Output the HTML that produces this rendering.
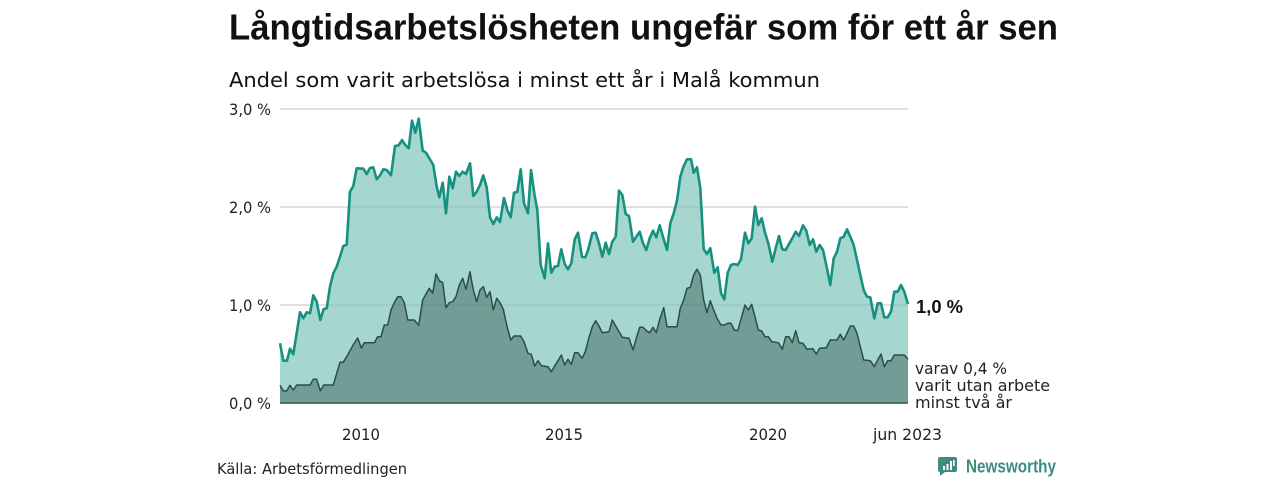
<!DOCTYPE html>
<html>
<head>
<meta charset="utf-8">
<style>
html,body{margin:0;padding:0;background:#fff;}
svg{display:block;}
text{font-family:"DejaVu Sans","Liberation Sans",sans-serif;}
text.b{font-family:"Liberation Sans","DejaVu Sans",sans-serif;font-weight:bold;}
</style>
</head>
<body>
<svg width="1280" height="480" viewBox="0 0 1280 480" xmlns="http://www.w3.org/2000/svg">
<rect width="1280" height="480" fill="#fff"/>
<text class="b" x="229" y="39.5" font-size="36" fill="#111" textLength="829" lengthAdjust="spacingAndGlyphs">Långtidsarbetslösheten ungefär som för ett år sen</text>
<text x="229" y="87" font-size="20.5" fill="#111" textLength="591" lengthAdjust="spacingAndGlyphs">Andel som varit arbetslösa i minst ett år i Malå kommun</text>

<g stroke="#dedede" stroke-width="1.2">
<line x1="280" y1="109" x2="908" y2="109"/>
<line x1="280" y1="207" x2="908" y2="207"/>
<line x1="280" y1="305" x2="908" y2="305"/>
</g>

<polygon fill="#a6d6d0" points="280,403 280,343.3 283.3,360.7 287,360.7 290,348.7 293.3,354.3 300,312.3 303.3,318.3 306.7,312.3 310,313.3 313.3,295.3 316.7,301.7 320.3,320 323.7,309 326.7,308.3 330,286.7 333.3,273.3 336.7,266.7 340,256.7 343.3,246 346.7,244.7 350,191.7 353.3,186 356.7,168.3 363.3,168.7 366.7,174 370,168 373.3,167.3 376.7,179.3 380,175.3 383.3,169.3 386.7,170 391,175.3 395,146 398.7,145.3 402,140 405.3,145 408.7,148.3 412,120.7 415.3,132.7 418.7,118.7 422.7,150.7 426,152.7 429.3,158.3 433.3,165 436.7,186.7 439.3,197.3 442.7,182.7 446,213.3 449.3,176.7 452.7,188.3 456,171.7 459.3,176 462.7,171.7 466,174 470,163.3 473.3,196 476.7,191.7 480,185 483.3,175.3 486.7,187.3 490,217.3 493.3,224 496.7,217.3 500,222 504,198 507.3,210 510.7,217.3 514,192.7 517.3,192 520.7,169.3 524,203.3 528,213.3 531,170 534.3,193.3 537.3,210 540.7,265 544.7,278.3 548,243.3 551.3,272.7 554.7,266.7 558,266 561.3,249.3 564.7,264 568,269.3 571.3,263.3 574.7,239.3 578,232.7 582,256.7 585.3,257.3 588.3,249.3 592.3,233.3 595.7,232.7 599,243.3 602.3,256.7 605.7,242.7 609,254 612.3,241.7 615.7,236.7 619,190.7 622.3,195 625.7,214 629,216 633,241.7 636.3,236.7 639.7,231.7 643,243.3 646.3,250 649.7,238.3 653,230.7 656.3,237.3 659.7,225.3 663,236.7 667,250 670.3,223.3 673.7,213.3 677,200.7 680.3,176.7 683.7,166 687,159.3 691,159.3 693.7,172.7 697,167.3 700.3,188.3 703.7,249.3 707,254 710.3,248.3 714.3,272.7 717.7,267.3 721,293.3 724.3,299.3 727.7,272.7 731,265 734.3,264 737.7,265 741,259.3 745,232.7 748.3,243.3 751.7,238.3 755,206.7 758.3,225 761.7,218.3 765,232.7 768.3,243.3 772.3,261.7 775.7,248.3 779,236 782.3,249.3 785.7,250 789,244 792.3,238.3 795.7,231.7 799,236 803,225.3 806.3,230.7 809.7,245 813,239.3 816.3,251.7 819.7,245 823,250 826.3,265 830.3,285 833.7,258.3 837,251.7 840.3,238.3 843.7,236.7 847,229.3 850.3,236.7 853.7,245 857,260 860.3,275 863.7,290 867,296.7 870.3,297.3 874.3,318.3 877.7,303.3 881,303.3 884.3,317.3 887.7,317.3 891,311.7 894.3,291.7 897.7,291.7 901,285 904.3,291.7 908,304 908,403"/>

<polygon fill="#719d96" points="280,403 280,385.3 283.3,391 286.7,391 290,385.3 293.3,390 296.7,385 310,385 313.3,379.3 316.7,379.3 320.3,390.7 323.7,385 333.3,385 336.7,373.3 340,362.3 343.3,362.3 346.7,356.7 350,350.7 353.3,344.7 357.7,338 361.3,348 364.3,342.7 374.3,342.7 377.7,336.7 381,336.7 384.3,325 387.7,325 391,310 394.3,302.7 397.7,296.7 401,296.7 404.3,302.7 407.7,320 414.3,320 418.7,325.3 422.7,300 426,294 429.3,288.3 432.7,293.3 436,274 439.3,280.7 442.7,282.7 446,307.7 449.3,302.7 452.7,301.7 456,296.7 459.3,285 462.7,278.3 466,289.3 470,271.7 473.3,290 476.7,301.7 480,290 483.3,286.7 486.7,297.3 490,291.7 493.3,310 496.7,298.3 500,302.7 503.3,309.3 506.7,325 510.7,340 514,336 520.7,336 524,341.7 528,353.3 531.3,354.3 534.7,366 538,360.7 541.3,365.7 548,366.7 551.3,371.7 554.7,366 558,360.7 561.3,355 564.7,365 568,359.3 571.3,364.3 574.7,352.7 578,352.7 582,358.3 585.3,351.7 588.3,340 592.3,326.7 595.7,320.7 599,326 602.3,332.7 609,331.7 612.3,320 615.7,326 619,331.7 622.3,337.3 629,338.3 633,350 636.3,338.3 639.7,327.3 643,327.3 646.3,330.7 649.7,332.7 653,327.3 656.3,332.7 659.7,319.3 663.7,307.7 667,326.7 677,326.7 680.3,308.3 683.7,300 687,288.3 690.3,287.3 693.7,275 697,269.3 700.3,275 703.7,300 707,312.7 710.3,300.7 713.7,310 717,318.3 721,325 724.3,325 727.7,323.3 731,323.3 734.3,330 737.7,330.7 741,319.3 745,305 748.3,310 751.7,304.3 755,316.7 758.3,330 761.7,331 765,336.7 768.3,336.7 771.7,341.7 778.3,342.7 782.3,349.3 785.7,336.7 789,336.7 792.3,342.7 795.7,330.7 799,342.7 803,343.3 807,349.3 813,348.7 816.3,354.3 819.7,348.3 826.3,347.7 830.3,340 837,340 840.3,334.3 843.7,340 847,333.3 850.3,326 853.7,326 857,333.3 860.3,346.7 863.7,360 870.3,360.7 874.3,366.7 877.7,360 881,354 884.3,366.7 887.7,360.7 891,360.7 894.3,355 904.3,355 908,359.3 908,403"/>

<g stroke="rgba(0,0,0,0.07)" stroke-width="1.2">
<line x1="280" y1="109" x2="908" y2="109"/>
<line x1="280" y1="207" x2="908" y2="207"/>
<line x1="280" y1="305" x2="908" y2="305"/>
</g>

<polyline fill="none" stroke="#17917f" stroke-width="2.6" stroke-linejoin="round" points="280,343.3 283.3,360.7 287,360.7 290,348.7 293.3,354.3 300,312.3 303.3,318.3 306.7,312.3 310,313.3 313.3,295.3 316.7,301.7 320.3,320 323.7,309 326.7,308.3 330,286.7 333.3,273.3 336.7,266.7 340,256.7 343.3,246 346.7,244.7 350,191.7 353.3,186 356.7,168.3 363.3,168.7 366.7,174 370,168 373.3,167.3 376.7,179.3 380,175.3 383.3,169.3 386.7,170 391,175.3 395,146 398.7,145.3 402,140 405.3,145 408.7,148.3 412,120.7 415.3,132.7 418.7,118.7 422.7,150.7 426,152.7 429.3,158.3 433.3,165 436.7,186.7 439.3,197.3 442.7,182.7 446,213.3 449.3,176.7 452.7,188.3 456,171.7 459.3,176 462.7,171.7 466,174 470,163.3 473.3,196 476.7,191.7 480,185 483.3,175.3 486.7,187.3 490,217.3 493.3,224 496.7,217.3 500,222 504,198 507.3,210 510.7,217.3 514,192.7 517.3,192 520.7,169.3 524,203.3 528,213.3 531,170 534.3,193.3 537.3,210 540.7,265 544.7,278.3 548,243.3 551.3,272.7 554.7,266.7 558,266 561.3,249.3 564.7,264 568,269.3 571.3,263.3 574.7,239.3 578,232.7 582,256.7 585.3,257.3 588.3,249.3 592.3,233.3 595.7,232.7 599,243.3 602.3,256.7 605.7,242.7 609,254 612.3,241.7 615.7,236.7 619,190.7 622.3,195 625.7,214 629,216 633,241.7 636.3,236.7 639.7,231.7 643,243.3 646.3,250 649.7,238.3 653,230.7 656.3,237.3 659.7,225.3 663,236.7 667,250 670.3,223.3 673.7,213.3 677,200.7 680.3,176.7 683.7,166 687,159.3 691,159.3 693.7,172.7 697,167.3 700.3,188.3 703.7,249.3 707,254 710.3,248.3 714.3,272.7 717.7,267.3 721,293.3 724.3,299.3 727.7,272.7 731,265 734.3,264 737.7,265 741,259.3 745,232.7 748.3,243.3 751.7,238.3 755,206.7 758.3,225 761.7,218.3 765,232.7 768.3,243.3 772.3,261.7 775.7,248.3 779,236 782.3,249.3 785.7,250 789,244 792.3,238.3 795.7,231.7 799,236 803,225.3 806.3,230.7 809.7,245 813,239.3 816.3,251.7 819.7,245 823,250 826.3,265 830.3,285 833.7,258.3 837,251.7 840.3,238.3 843.7,236.7 847,229.3 850.3,236.7 853.7,245 857,260 860.3,275 863.7,290 867,296.7 870.3,297.3 874.3,318.3 877.7,303.3 881,303.3 884.3,317.3 887.7,317.3 891,311.7 894.3,291.7 897.7,291.7 901,285 904.3,291.7 908,304"/>

<polyline fill="none" stroke="#2a4e48" stroke-width="1.5" stroke-linejoin="round" points="280,385.3 283.3,391 286.7,391 290,385.3 293.3,390 296.7,385 310,385 313.3,379.3 316.7,379.3 320.3,390.7 323.7,385 333.3,385 336.7,373.3 340,362.3 343.3,362.3 346.7,356.7 350,350.7 353.3,344.7 357.7,338 361.3,348 364.3,342.7 374.3,342.7 377.7,336.7 381,336.7 384.3,325 387.7,325 391,310 394.3,302.7 397.7,296.7 401,296.7 404.3,302.7 407.7,320 414.3,320 418.7,325.3 422.7,300 426,294 429.3,288.3 432.7,293.3 436,274 439.3,280.7 442.7,282.7 446,307.7 449.3,302.7 452.7,301.7 456,296.7 459.3,285 462.7,278.3 466,289.3 470,271.7 473.3,290 476.7,301.7 480,290 483.3,286.7 486.7,297.3 490,291.7 493.3,310 496.7,298.3 500,302.7 503.3,309.3 506.7,325 510.7,340 514,336 520.7,336 524,341.7 528,353.3 531.3,354.3 534.7,366 538,360.7 541.3,365.7 548,366.7 551.3,371.7 554.7,366 558,360.7 561.3,355 564.7,365 568,359.3 571.3,364.3 574.7,352.7 578,352.7 582,358.3 585.3,351.7 588.3,340 592.3,326.7 595.7,320.7 599,326 602.3,332.7 609,331.7 612.3,320 615.7,326 619,331.7 622.3,337.3 629,338.3 633,350 636.3,338.3 639.7,327.3 643,327.3 646.3,330.7 649.7,332.7 653,327.3 656.3,332.7 659.7,319.3 663.7,307.7 667,326.7 677,326.7 680.3,308.3 683.7,300 687,288.3 690.3,287.3 693.7,275 697,269.3 700.3,275 703.7,300 707,312.7 710.3,300.7 713.7,310 717,318.3 721,325 724.3,325 727.7,323.3 731,323.3 734.3,330 737.7,330.7 741,319.3 745,305 748.3,310 751.7,304.3 755,316.7 758.3,330 761.7,331 765,336.7 768.3,336.7 771.7,341.7 778.3,342.7 782.3,349.3 785.7,336.7 789,336.7 792.3,342.7 795.7,330.7 799,342.7 803,343.3 807,349.3 813,348.7 816.3,354.3 819.7,348.3 826.3,347.7 830.3,340 837,340 840.3,334.3 843.7,340 847,333.3 850.3,326 853.7,326 857,333.3 860.3,346.7 863.7,360 870.3,360.7 874.3,366.7 877.7,360 881,354 884.3,366.7 887.7,360.7 891,360.7 894.3,355 904.3,355 908,359.3"/>

<line x1="280" y1="403" x2="908" y2="403" stroke="#33524d" stroke-width="1.6"/>

<g font-size="16" fill="#222">
<text x="229" y="115" textLength="42" lengthAdjust="spacingAndGlyphs">3,0 %</text>
<text x="229" y="213" textLength="42" lengthAdjust="spacingAndGlyphs">2,0 %</text>
<text x="229" y="311" textLength="42" lengthAdjust="spacingAndGlyphs">1,0 %</text>
<text x="229" y="409" textLength="42" lengthAdjust="spacingAndGlyphs">0,0 %</text>
</g>

<g font-size="16" fill="#222">
<text x="342" y="440" textLength="38" lengthAdjust="spacingAndGlyphs">2010</text>
<text x="545" y="440" textLength="38" lengthAdjust="spacingAndGlyphs">2015</text>
<text x="749" y="440" textLength="38" lengthAdjust="spacingAndGlyphs">2020</text>
<text x="873" y="440" textLength="69" lengthAdjust="spacingAndGlyphs">jun 2023</text>
</g>

<text class="b" x="916" y="313" font-size="18" fill="#111" textLength="47" lengthAdjust="spacingAndGlyphs">1,0 %</text>
<g font-size="16" fill="#222">
<text x="915" y="374" textLength="92" lengthAdjust="spacingAndGlyphs">varav 0,4 %</text>
<text x="915" y="391" textLength="135" lengthAdjust="spacingAndGlyphs">varit utan arbete</text>
<text x="915" y="408" textLength="97" lengthAdjust="spacingAndGlyphs">minst två år</text>
</g>

<text x="217" y="474" font-size="15" fill="#222" textLength="190" lengthAdjust="spacingAndGlyphs">Källa: Arbetsförmedlingen</text>

<g>
<path d="M940,457 h15 a2,2 0 0 1 2,2 v11 a2,2 0 0 1 -2,2 h-10 l-5,4 v-4 a2,2 0 0 1 -2,-2 v-11 a2,2 0 0 1 2,-2 z" fill="#3e8c7f"/>
<rect x="943" y="466" width="2" height="4" fill="#fff"/>
<rect x="946.5" y="464" width="2" height="6" fill="#fff"/>
<rect x="950" y="461" width="2" height="9" fill="#fff"/>
<rect x="953" y="460" width="1.6" height="6" fill="#fff"/>
</g>
<text class="b" x="966" y="472.5" font-size="18" fill="#3e8c7f" textLength="90" lengthAdjust="spacingAndGlyphs">Newsworthy</text>
</svg>
</body>
</html>
